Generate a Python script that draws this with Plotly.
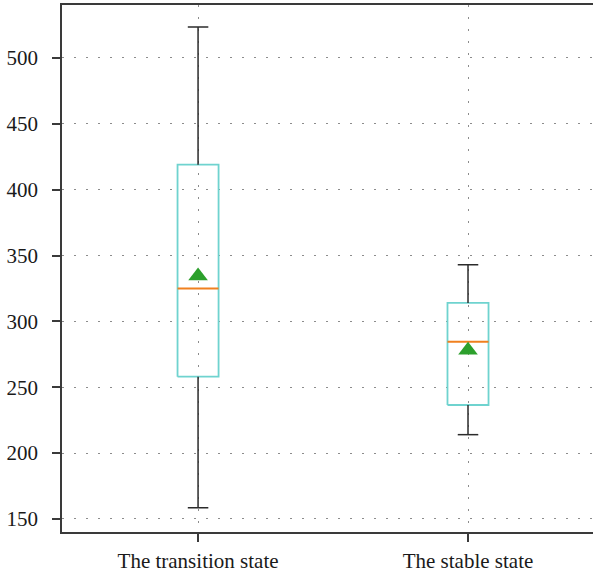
import plotly.graph_objects as go

# Summary statistics of the two states
categories = ["The transition state", "The stable state"]
positions = [0, 1]
lower_whisker = [158.5, 214]
q1 = [258, 236.5]
median = [325, 284.5]
q3 = [419, 314]
upper_whisker = [523.5, 343]
mean = [334.5, 278]

y_ticks = [150, 200, 250, 300, 350, 400, 450, 500]

BOX_W = 0.152
CAP_W = BOX_W / 2
BOX_COLOR = "#6fd3cf"
WHISKER_COLOR = "#2b2b2b"
MEDIAN_COLOR = "#f0801f"
MEAN_COLOR = "#2ca02c"
AXIS_COLOR = "#3a3a3a"
GRID_COLOR = "#8c8c8c"
FONT = "Liberation Serif"

fig = go.Figure()

# Interquartile boxes in turquoise
bx, by = [], []
for p, a, b in zip(positions, q1, q3):
    left, right = p - BOX_W / 2, p + BOX_W / 2
    bx += [left, right, right, left, left, None]
    by += [a, a, b, b, a, None]
fig.add_trace(go.Scatter(
    x=bx, y=by, mode="lines",
    line=dict(color=BOX_COLOR, width=1.8),
    hoverinfo="skip", showlegend=False,
))

# Whiskers and caps in dark grey
wx, wy = [], []
for p, lo, a, b, hi in zip(positions, lower_whisker, q1, q3, upper_whisker):
    wx += [p, p, None, p, p, None,
           p - CAP_W / 2, p + CAP_W / 2, None, p - CAP_W / 2, p + CAP_W / 2, None]
    wy += [b, hi, None, a, lo, None, hi, hi, None, lo, lo, None]
fig.add_trace(go.Scatter(
    x=wx, y=wy, mode="lines",
    line=dict(color=WHISKER_COLOR, width=1.5),
    hoverinfo="skip", showlegend=False,
))

# Median lines in orange
for p, m in zip(positions, median):
    fig.add_trace(go.Scatter(
        x=[p - BOX_W / 2, p + BOX_W / 2], y=[m, m], mode="lines",
        line=dict(color=MEDIAN_COLOR, width=2),
        hoverinfo="skip", showlegend=False,
    ))

# Means as green triangles
fig.add_trace(go.Scatter(
    x=positions, y=mean, mode="markers",
    marker=dict(symbol="triangle-up", size=17, color=MEAN_COLOR,
                line=dict(width=0)),
    hoverinfo="skip", showlegend=False,
))

grid_dash = "1.5px,10.5px"

fig.update_layout(
    width=593, height=576,
    margin=dict(l=62, r=0, t=5, b=44),
    paper_bgcolor="white", plot_bgcolor="white",
    font=dict(family=FONT, size=21, color="#1a1a1a"),
)

fig.update_xaxes(
    range=[-0.504, 1.463], tickvals=positions, ticktext=categories,
    showline=True, linecolor=AXIS_COLOR, linewidth=1.5, mirror=True,
    ticks="outside", ticklen=8, tickwidth=1.5, tickcolor=AXIS_COLOR,
    showgrid=True, gridcolor=GRID_COLOR, gridwidth=1.2, griddash=grid_dash,
    zeroline=False, ticklabelstandoff=1,
)

fig.update_yaxes(
    range=[140.1, 540.2], tickvals=y_ticks,
    showline=True, linecolor=AXIS_COLOR, linewidth=1.5, mirror=False,
    ticks="outside", ticklen=8, tickwidth=1.5, tickcolor=AXIS_COLOR,
    showgrid=True, gridcolor=GRID_COLOR, gridwidth=1.2, griddash=grid_dash,
    zeroline=False, ticklabelstandoff=10,
)

fig.write_html("out.html")
